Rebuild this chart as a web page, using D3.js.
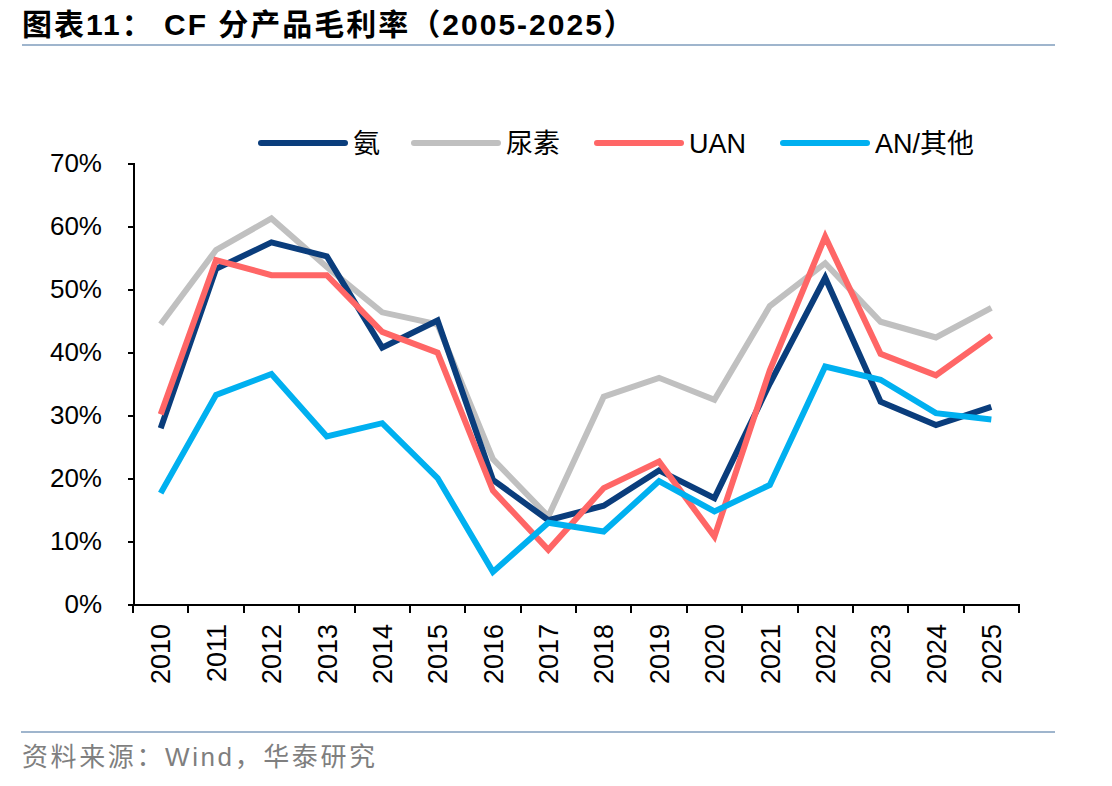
<!DOCTYPE html>
<meta charset="utf-8">
<head>
    <title>CF 分产品毛利率</title>
</head>
<style>
  body {
    margin: 0;
    background: #fff;
    font-family: "Liberation Sans", Arial, "Noto Sans CJK SC", sans-serif;
  }

  .axis path,
  .axis line {
    fill: none;
    stroke: #000;
    stroke-width: 2px;
    shape-rendering: crispEdges;
  }

  .axis text {
    font-family: "Liberation Sans", Arial, sans-serif;
    font-size: 26px;
    fill: #000;
  }

  .series {
    fill: none;
    stroke-width: 6px;
    stroke-linejoin: miter;
  }
</style>
<body>
<script src="https://cdn.jsdelivr.net/npm/d3@7"></script>

<script>
// data (gross margin, %)
var years = ["2010", "2011", "2012", "2013", "2014", "2015", "2016", "2017",
             "2018", "2019", "2020", "2021", "2022", "2023", "2024", "2025"];
var ammonia = [27.9, 53.2, 57.4, 55.2, 40.7, 45.0, 19.7, 13.3, 15.6, 21.2, 16.8, 35.0, 51.8, 32.1, 28.4, 31.3];
var urea    = [44.4, 56.2, 61.2, 53.5, 46.3, 44.4, 23.0, 13.9, 32.9, 35.9, 32.4, 47.3, 54.1, 44.8, 42.3, 47.0];
var uan     = [30.1, 54.6, 52.2, 52.2, 43.2, 39.9, 18.0, 8.6, 18.4, 22.6, 10.7, 37.1, 58.3, 39.7, 36.3, 42.6];
var anOther = [17.6, 33.2, 36.5, 26.6, 28.7, 20.0, 5.1, 12.9, 11.5, 19.5, 14.7, 18.9, 37.7, 35.6, 30.3, 29.3];
var yTicks = [0, 10, 20, 30, 40, 50, 60, 70];

var seriesNames = ["氨", "尿素", "UAN", "AN/其他"];
var seriesColors = ["#0a3d7c", "#c0c0c0", "#ff6666", "#00b0f0"];
var seriesValues = [ammonia, urea, uan, anOther];

var width = 1112, height = 786;

var svg = d3.select("body").append("svg")
    .attr("width", width)
    .attr("height", height);

// title + rule
svg.append("text")
    .attr("x", 22)
    .attr("y", 35)
    .style("font-family", "'Liberation Sans', Arial, 'Noto Sans CJK SC', sans-serif")
    .style("font-weight", "bold")
    .style("font-size", "30px")
    .style("letter-spacing", "2px")
    .text("图表11： CF 分产品毛利率（2005-2025）");

svg.append("line")
    .attr("x1", 22).attr("x2", 1055)
    .attr("y1", 45).attr("y2", 45)
    .attr("stroke", "#9fb5cd")
    .attr("stroke-width", 2);

// scales
var xScale = d3.scaleBand().domain(years).range([133, 1019]);
var yScale = d3.scaleLinear().domain([0, 70]).range([604, 163]);

var xAxis = d3.axisBottom(xScale).tickSize(0).tickFormat("");
var yAxis = d3.axisLeft(yScale).tickValues(yTicks).tickSize(5).tickSizeOuter(5)
    .tickPadding(26).tickFormat(function(d) { return d + "%"; });

// y-axis
svg.append("g")
    .attr("class", "axis")
    .attr("transform", "translate(133,0)")
    .call(yAxis);

// x-axis
var gx = svg.append("g")
    .attr("class", "axis")
    .attr("transform", "translate(0,604)")
    .call(xAxis);

// ticks at band edges
gx.selectAll(".edge")
    .data(years.concat(["end"]))
  .enter().append("line")
    .attr("class", "edge")
    .attr("x1", function(d, i) { return 133 + i * xScale.step(); })
    .attr("x2", function(d, i) { return 133 + i * xScale.step(); })
    .attr("y1", 0)
    .attr("y2", 9);

// rotated year labels
svg.selectAll(".year")
    .data(years)
  .enter().append("text")
    .attr("class", "year")
    .attr("transform", function(d) {
        return "translate(" + (xScale(d) + xScale.bandwidth() / 2) + ",624) rotate(-90)";
    })
    .attr("dy", "0.36em")
    .style("text-anchor", "end")
    .style("font-size", "27px")
    .text(function(d) { return d; });

// lines
var line = d3.line()
    .x(function(d, i) { return xScale(years[i]) + xScale.bandwidth() / 2; })
    .y(function(d) { return yScale(d); });

// draw in order so later series sit on top
var drawOrder = [1, 0, 2, 3];
drawOrder.forEach(function(k) {
    svg.append("path")
        .attr("class", "series")
        .attr("stroke", seriesColors[k])
        .attr("d", line(seriesValues[k]));
});

// legend
var legendX = [261, 414, 597, 783];
var legend = svg.selectAll(".legend")
    .data(seriesNames)
  .enter().append("g")
    .attr("class", "legend")
    .attr("transform", function(d, i) { return "translate(" + legendX[i] + ",143)"; });

legend.append("line")
    .attr("x1", 0).attr("x2", 84)
    .attr("y1", 0).attr("y2", 0)
    .attr("stroke", function(d, i) { return seriesColors[i]; })
    .attr("stroke-width", 6)
    .attr("stroke-linecap", "round");

legend.append("text")
    .attr("x", 92)
    .attr("dy", "0.36em")
    .style("font-size", "27px")
    .text(function(d) { return d; });

// source
svg.append("line")
    .attr("x1", 21).attr("x2", 1055)
    .attr("y1", 732).attr("y2", 732)
    .attr("stroke", "#9fb5cd")
    .attr("stroke-width", 2);

svg.append("text")
    .attr("x", 22)
    .attr("y", 766)
    .style("font-size", "26px")
    .style("fill", "#7f7f7f")
    .style("letter-spacing", "2.6px")
    .text("资料来源：Wind，华泰研究");
</script>
</body>
